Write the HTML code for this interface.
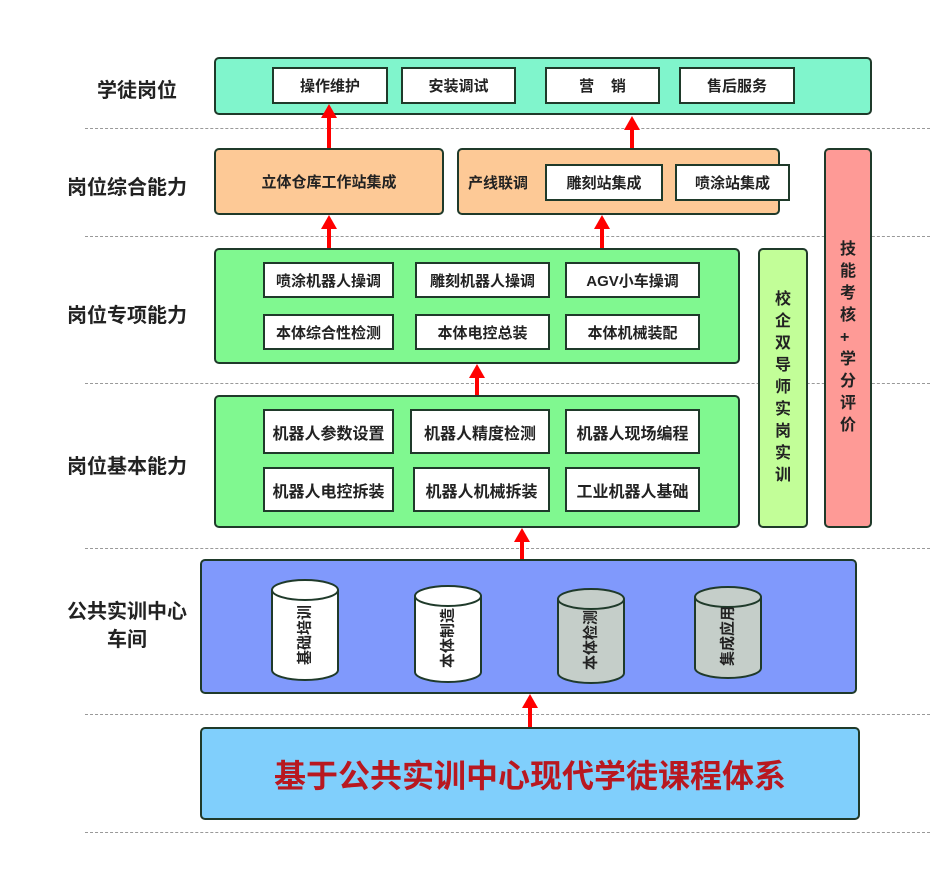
<!DOCTYPE html>
<html><head><meta charset="utf-8"><style>
body{margin:0;width:950px;height:883px;background:#fff;position:relative;overflow:hidden;font-family:"Liberation Sans","Noto Sans CJK SC",sans-serif;font-weight:bold;color:#222}
div{position:absolute;box-sizing:border-box}
.b{border:2px solid #1f3a2a;border-radius:5px}
.w{background:#fff;border:2px solid #1f3a2a;display:flex;align-items:center;justify-content:center;font-size:15px}
.d{height:0;border-top:1.5px dashed #999;left:85px;width:845px}
.l{font-size:20px;text-align:center;width:160px;left:47px}
.a{width:4px;background:#f00}
.h{width:0;height:0;border-left:8px solid transparent;border-right:8px solid transparent;border-bottom:14px solid #f00}
.v{display:flex;flex-direction:column;align-items:center;justify-content:center;font-size:16px;line-height:22px}
</style></head><body>
<div class="d" style="top:128px"></div>
<div class="d" style="top:236px"></div>
<div class="d" style="top:383px"></div>
<div class="d" style="top:548px"></div>
<div class="d" style="top:714px"></div>
<div class="d" style="top:832px"></div>

<div class="l" style="top:74px;left:57px">学徒岗位</div>
<div class="l" style="top:171px">岗位综合能力</div>
<div class="l" style="top:299px">岗位专项能力</div>
<div class="l" style="top:450px">岗位基本能力</div>
<div class="l" style="top:598px;line-height:28px">公共实训中心<br>车间</div>

<div class="b" style="left:214px;top:57px;width:658px;height:58px;background:#80f5cc"></div>
<div class="w" style="left:272px;top:67px;width:116px;height:37px">操作维护</div>
<div class="w" style="left:401px;top:67px;width:115px;height:37px">安装调试</div>
<div class="w" style="left:545px;top:67px;width:115px;height:37px">营&nbsp;&nbsp;&nbsp;&nbsp;销</div>
<div class="w" style="left:679px;top:67px;width:116px;height:37px">售后服务</div>

<div class="b" style="left:214px;top:148px;width:230px;height:67px;background:#fdc996;display:flex;align-items:center;justify-content:center;font-size:15px">立体仓库工作站集成</div>
<div class="b" style="left:457px;top:148px;width:323px;height:67px;background:#fdc996"></div>
<div style="left:468px;top:172px;font-size:15px">产线联调</div>
<div class="w" style="left:545px;top:164px;width:118px;height:37px">雕刻站集成</div>
<div class="w" style="left:675px;top:164px;width:115px;height:37px">喷涂站集成</div>

<div class="b v" style="left:824px;top:148px;width:48px;height:380px;background:#fe9a96">技<br>能<br>考<br>核<br>+<br>学<br>分<br>评<br>价</div>
<div class="b v" style="left:758px;top:248px;width:50px;height:280px;background:#c2fe98">校<br>企<br>双<br>导<br>师<br>实<br>岗<br>实<br>训</div>

<div class="b" style="left:214px;top:248px;width:526px;height:116px;background:#80f890"></div>
<div class="w" style="left:263px;top:262px;width:131px;height:36px">喷涂机器人操调</div>
<div class="w" style="left:415px;top:262px;width:135px;height:36px">雕刻机器人操调</div>
<div class="w" style="left:565px;top:262px;width:135px;height:36px">AGV小车操调</div>
<div class="w" style="left:263px;top:314px;width:131px;height:36px">本体综合性检测</div>
<div class="w" style="left:415px;top:314px;width:135px;height:36px">本体电控总装</div>
<div class="w" style="left:565px;top:314px;width:135px;height:36px">本体机械装配</div>

<div class="b" style="left:214px;top:395px;width:526px;height:133px;background:#80f890"></div>
<div class="w" style="left:263px;top:409px;width:131px;height:45px;font-size:16px">机器人参数设置</div>
<div class="w" style="left:410px;top:409px;width:140px;height:45px;font-size:16px">机器人精度检测</div>
<div class="w" style="left:565px;top:409px;width:135px;height:45px;font-size:16px">机器人现场编程</div>
<div class="w" style="left:263px;top:467px;width:131px;height:45px;font-size:16px">机器人电控拆装</div>
<div class="w" style="left:413px;top:467px;width:137px;height:45px;font-size:16px">机器人机械拆装</div>
<div class="w" style="left:565px;top:467px;width:135px;height:45px;font-size:16px">工业机器人基础</div>

<div class="b" style="left:200px;top:559px;width:657px;height:135px;background:#8099fc"></div>
<svg style="position:absolute;left:0;top:0" width="950" height="883">
<g stroke="#1f3a2a" stroke-width="2">
<path d="M272 590 V670 A33 10 0 0 0 338 670 V590" fill="#fff"/><ellipse cx="305" cy="590" rx="33" ry="10" fill="#fff"/>
<path d="M415 596 V672 A33 10 0 0 0 481 672 V596" fill="#fff"/><ellipse cx="448" cy="596" rx="33" ry="10" fill="#fff"/>
<path d="M558 599 V673 A33 10 0 0 0 624 673 V599" fill="#c5cec9"/><ellipse cx="591" cy="599" rx="33" ry="10" fill="#c5cec9"/>
<path d="M695 597 V668 A33 10 0 0 0 761 668 V597" fill="#c5cec9"/><ellipse cx="728" cy="597" rx="33" ry="10" fill="#c5cec9"/>
</g>
<g font-family="Liberation Sans,Noto Sans CJK SC,sans-serif" font-weight="bold" font-size="15" fill="#222" text-anchor="middle" dominant-baseline="central">
<text transform="translate(305,635) rotate(-90)">基础培训</text>
<text transform="translate(448,638) rotate(-90)">本体制造</text>
<text transform="translate(591,640) rotate(-90)">本体检测</text>
<text transform="translate(728,636) rotate(-90)">集成应用</text>
</g>
</svg>

<div class="b" style="left:200px;top:727px;width:660px;height:93px;background:#80cffc;display:flex;align-items:center;justify-content:center;font-size:32px;color:#b81820">基于公共实训中心现代学徒课程体系</div>

<div class="a" style="left:327px;top:116px;height:32px"></div><div class="h" style="left:321px;top:104px"></div>
<div class="a" style="left:630px;top:128px;height:20px"></div><div class="h" style="left:624px;top:116px"></div>
<div class="a" style="left:327px;top:227px;height:21px"></div><div class="h" style="left:321px;top:215px"></div>
<div class="a" style="left:600px;top:227px;height:21px"></div><div class="h" style="left:594px;top:215px"></div>
<div class="a" style="left:475px;top:376px;height:19px"></div><div class="h" style="left:469px;top:364px"></div>
<div class="a" style="left:520px;top:540px;height:19px"></div><div class="h" style="left:514px;top:528px"></div>
<div class="a" style="left:528px;top:706px;height:21px"></div><div class="h" style="left:522px;top:694px"></div>
</body></html>
